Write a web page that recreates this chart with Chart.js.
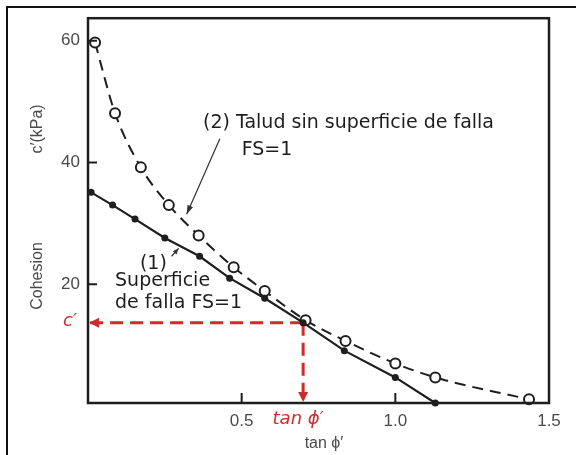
<!DOCTYPE html>
<html>
<head>
<meta charset="utf-8">
<script src="https://cdn.jsdelivr.net/npm/chart.js@4/dist/chart.umd.min.js"></script>
<style>
  html, body { margin: 0; padding: 0; background: #fff; }
  #wrap { width: 576px; height: 455px; position: relative; }
</style>
</head>
<body>
<div id="wrap"><canvas id="c" width="576" height="455"></canvas></div>
<script>
// (1) Superficie de falla FS=1  -> filled dots, solid line
const tanPhiFalla = [0.01, 0.08, 0.153, 0.25, 0.363, 0.461, 0.575, 0.70, 0.834, 1.0, 1.13];
const cohesionFalla = [35.1, 33.0, 30.7, 27.6, 24.6, 21.0, 17.7, 13.7, 9.1, 4.7, 0.5];

// (2) Talud sin superficie de falla FS=1 -> open circles, dashed curve
const tanPhiTalud = [0.023, 0.088, 0.172, 0.263, 0.36, 0.474, 0.575, 0.708, 0.838, 1.0, 1.13, 1.435];
const cohesionTalud = [59.7, 48.1, 39.2, 33.0, 28.0, 22.8, 18.9, 14.1, 10.7, 7.0, 4.7, 1.1];

// intersection of both curves
const cPrime = 13.7;
const tanPhiPrime = 0.70;

// axes
const xTicks = [0.5, 1.0, 1.5];
const yTicks = [20, 40, 60];
const xRange = [0, 1.5];
const yRange = [0.5, 63.7];

const RED = '#cf2b2b';
const INK = '#1e1e1e';
const GREY = '#4a4a4a';
const HAND = '"DejaVu Sans", "Open Sans", sans-serif';
const SANS = '"Liberation Sans", Arial, sans-serif';

const toPoints = (xs, ys) => xs.map((x, i) => ({ x, y: ys[i] }));

function arrowHead(ctx, x1, y1, x2, y2, len, half, color) {
  const a = Math.atan2(y2 - y1, x2 - x1);
  ctx.save();
  ctx.fillStyle = color;
  ctx.beginPath();
  ctx.moveTo(x2, y2);
  ctx.lineTo(x2 - len * Math.cos(a) + half * Math.sin(a), y2 - len * Math.sin(a) - half * Math.cos(a));
  ctx.lineTo(x2 - len * Math.cos(a) - half * Math.sin(a), y2 - len * Math.sin(a) + half * Math.cos(a));
  ctx.closePath();
  ctx.fill();
  ctx.restore();
}

const decorations = {
  id: 'decorations',
  beforeDraw(chart) {
    const ctx = chart.ctx;
    ctx.save();
    ctx.fillStyle = '#fff';
    ctx.fillRect(0, 0, chart.width, chart.height);
    // outer frame (top and left edges)
    ctx.strokeStyle = '#111';
    ctx.lineWidth = 2;
    ctx.beginPath();
    ctx.moveTo(7, chart.height);
    ctx.lineTo(7, 7);
    ctx.lineTo(chart.width, 7);
    ctx.stroke();
    ctx.restore();
  },
  afterDraw(chart) {
    const ctx = chart.ctx;
    const xs = chart.scales.x, ys = chart.scales.y;
    const a = chart.chartArea;
    const px = v => xs.getPixelForValue(v);
    const py = v => ys.getPixelForValue(v);
    ctx.save();

    // plot frame
    ctx.strokeStyle = INK;
    ctx.lineWidth = 2.5;
    ctx.strokeRect(a.left, a.top, a.right - a.left, a.bottom - a.top);

    // inward tick marks
    ctx.lineWidth = 2;
    ctx.beginPath();
    yTicks.forEach(v => { ctx.moveTo(a.left, py(v)); ctx.lineTo(a.left + 9, py(v)); });
    xTicks.forEach(v => { ctx.moveTo(px(v), a.bottom); ctx.lineTo(px(v), a.bottom - 10); });
    ctx.stroke();

    // red arrowheads on the c' / tan phi' guides
    arrowHead(ctx, px(tanPhiPrime), py(cPrime), a.left + 1, py(cPrime), 10, 5, RED);
    arrowHead(ctx, px(tanPhiPrime), py(cPrime), px(tanPhiPrime), a.bottom - 1, 10, 5, RED);

    // axis titles
    ctx.fillStyle = GREY;
    ctx.font = '16px ' + SANS;
    ctx.textAlign = 'center';
    ctx.textBaseline = 'middle';
    ctx.fillText('tan \u03D5\u2032', 324, 444);
    ctx.save();
    ctx.translate(38, 276);
    ctx.rotate(-Math.PI / 2);
    ctx.fillText('Cohesion', 0, 0);
    ctx.restore();
    ctx.save();
    ctx.translate(38, 129);
    ctx.rotate(-Math.PI / 2);
    ctx.fillText('c\u2032(kPa)', 0, 0);
    ctx.restore();

    // red labels
    ctx.fillStyle = RED;
    ctx.font = 'oblique 18px ' + HAND;
    ctx.textAlign = 'center';
    ctx.fillText('c\u2032', a.left - 18, py(cPrime) - 1);
    ctx.fillText('tan \u03D5\u2032', px(tanPhiPrime) - 5, a.bottom + 16);

    // curve annotations
    ctx.fillStyle = INK;
    ctx.font = '19px ' + HAND;
    ctx.textAlign = 'left';
    ctx.fillText('(2) Talud sin superficie de falla', 203, py(46.5));
    ctx.fillText('FS=1', px(0.5), py(42.1));
    ctx.fillText('(1)', px(0.169), py(23.3));
    ctx.fillText('Superficie', px(0.088), py(20.5));
    ctx.fillText('de falla FS=1', px(0.088), py(16.9));

    // pointer arrows
    ctx.strokeStyle = '#333';
    ctx.lineWidth = 1.2;
    ctx.beginPath();
    ctx.moveTo(px(0.429), py(43.9));
    ctx.lineTo(px(0.321), py(31.5));
    ctx.moveTo(px(0.272), py(24.6));
    ctx.lineTo(px(0.295), py(25.9));
    ctx.stroke();
    arrowHead(ctx, px(0.429), py(43.9), px(0.321), py(31.5), 9, 3, '#333');
    arrowHead(ctx, px(0.272), py(24.6), px(0.295), py(25.9), 6, 2.5, '#333');

    ctx.restore();
  }
};

new Chart(document.getElementById('c'), {
  type: 'scatter',
  data: {
    datasets: [
      {
        label: 'Superficie de falla FS=1',
        data: toPoints(tanPhiFalla, cohesionFalla),
        showLine: true,
        borderColor: INK,
        borderWidth: 2.2,
        pointBackgroundColor: INK,
        pointBorderColor: INK,
        pointRadius: 3.5,
        pointBorderWidth: 0,
        clip: false,
        order: 1
      },
      {
        label: 'Talud sin superficie de falla FS=1',
        data: toPoints(tanPhiTalud, cohesionTalud),
        showLine: true,
        cubicInterpolationMode: 'monotone',
        borderColor: INK,
        borderWidth: 2,
        borderDash: [11, 7],
        pointBackgroundColor: '#fff',
        pointBorderColor: INK,
        pointRadius: 5,
        pointBorderWidth: 2,
        clip: false,
        order: 2
      },
      {
        label: "c'",
        data: [{ x: tanPhiPrime, y: cPrime }, { x: xRange[0], y: cPrime }],
        showLine: true,
        borderColor: RED,
        borderWidth: 3,
        borderDash: [13, 7],
        pointRadius: 0,
        clip: false,
        order: 3
      },
      {
        label: "tan phi'",
        data: [{ x: tanPhiPrime, y: cPrime }, { x: tanPhiPrime, y: yRange[0] }],
        showLine: true,
        borderColor: RED,
        borderWidth: 3,
        borderDash: [13, 7],
        pointRadius: 0,
        clip: false,
        order: 3
      }
    ]
  },
  options: {
    responsive: false,
    animation: false,
    events: [],
    layout: { padding: { top: 14, right: 27, left: 0, bottom: 0 } },
    plugins: { legend: { display: false }, tooltip: { enabled: false } },
    scales: {
      x: {
        type: 'linear',
        min: xRange[0],
        max: xRange[1],
        grid: { display: false, drawTicks: false },
        border: { display: false },
        afterFit: s => { s.height = 52; },
        afterBuildTicks: s => { s.ticks = xTicks.map(v => ({ value: v })); },
        ticks: {
          padding: 8,
          color: GREY,
          font: { family: SANS, size: 17 },
          callback: v => v.toFixed(1)
        }
      },
      y: {
        type: 'linear',
        min: yRange[0],
        max: yRange[1],
        grid: { display: false, drawTicks: false },
        border: { display: false },
        afterFit: s => { s.width = 88; },
        afterBuildTicks: s => { s.ticks = yTicks.map(v => ({ value: v })); },
        ticks: {
          padding: 8,
          color: GREY,
          font: { family: SANS, size: 17 },
          callback: v => String(v)
        }
      }
    }
  },
  plugins: [decorations]
});
</script>
</body>
</html>
